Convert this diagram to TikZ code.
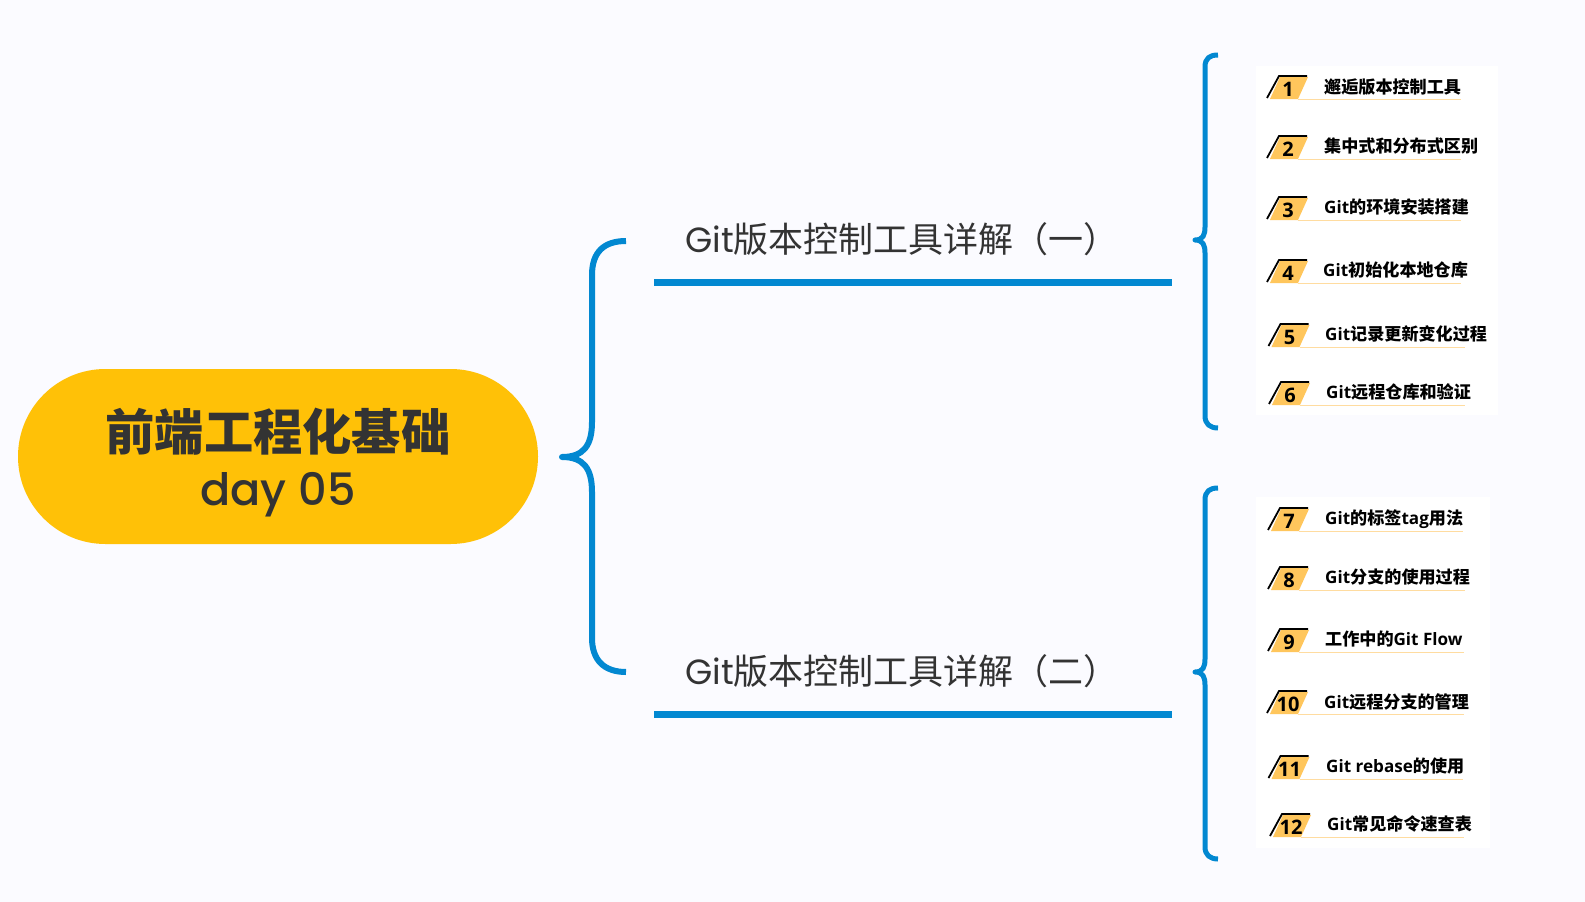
\documentclass[tikz,border=0pt]{standalone}
\usepackage{fontspec}
\setmainfont{Open Sans}
\newfontfamily\cjk{Noto Sans CJK SC}
\newfontfamily\geo{Poppins}
\newfontfamily\geomed{Poppins Medium}
\usetikzlibrary{calc}
\definecolor{bgc}{HTML}{FBFBFF}
\definecolor{bluec}{HTML}{0288D1}
\definecolor{pillc}{HTML}{FFC107}
\definecolor{orangec}{HTML}{FFC65C}
\definecolor{ulc}{HTML}{FFDCA0}
\definecolor{darkc}{HTML}{333333}
\tikzset{
  brace/.style={draw=bluec,line width=#1,line cap=butt,line join=round},
  rule/.style={draw=bluec,line width=7pt},
  head/.style={anchor=base west,inner sep=0pt,font=\fontsize{35}{35}\selectfont,text=darkc},
  label/.style={anchor=west,inner sep=0pt,font=\fontsize{17.1}{17.1}\selectfont\bfseries,text=black},
  numb/.style={inner sep=0pt,font=\fontsize{20}{20}\selectfont\bfseries,text=black},
  panel/.style={fill=white,draw=none},
  tag/.style={fill=orangec,draw=none},
  tagedge/.style={draw=black,line width=1.8pt,line cap=butt,line join=miter},
  uline/.style={draw=ulc,line width=1pt}
}
% n, shape dx, base y, text x, text y, underline end, text
\newcommand{\itemrow}[7]{%
  \fill[tag] (1270+#2,#3) -- (1298+#2,#3) -- (1308+#2,#3-22) -- (1280+#2,#3-22) -- cycle;
  \draw[tagedge] (1267+#2,#3-1) -- (1279+#2,#3-23) -- (1307+#2,#3-23);
  \node[numb] (n#1) at (1288+#2,#3-9.5) {#1};
  \node[label] (t#1) at (#4,#5) {#7};
  \coordinate (ua#1) at (1298+#2,#3);
  \coordinate (ub#1) at (#6,#3);
  \draw[uline] (ua#1) -- (ub#1);
}
% top y, tip offset, bottom offset
\newcommand{\smallbrace}[3]{%
  \draw[brace=5pt] (1218,#1+2) .. controls (1210,#1+2) and (1205,#1+5) .. (1205,#1+14)
    -- (1205,#1+#2-13) .. controls (1205,#1+#2-5) and (1203,#1+#2) .. (1195,#1+#2)
    .. controls (1203,#1+#2) and (1205,#1+#2+5) .. (1205,#1+#2+13)
    -- (1205,#1+#3-12) .. controls (1205,#1+#3-4) and (1210,#1+#3) .. (1218,#1+#3);
}
\begin{document}
\begin{tikzpicture}[x=1pt,y=-1pt]
\path[use as bounding box,fill=bgc] (0,0) rectangle (1585,902);
% pill
\fill[pillc,rounded corners=87.4pt] (18,369) rectangle (538,544);
\node[inner sep=0pt,font=\fontsize{49.3}{49.3}\selectfont\cjk\bfseries,text=darkc] (title) at (278,432) {前端工程化基础};
\node[inner sep=0pt,font=\fontsize{44.6}{44.6}\selectfont\geomed,text=darkc] (day) at (278,495) {day 05};
% big brace
\draw[brace=6pt] (626,241) .. controls (604,241) and (592,252) .. (592,275)
  -- (592,422) .. controls (592,445) and (584,457) .. (562,457)
  .. controls (584,457) and (592,469) .. (592,492)
  -- (592,638) .. controls (592,660) and (604,672) .. (626,672);
% headings
\draw[rule] (654,282) -- (1172,282);
\draw[rule] (654,714) -- (1172,714);
\node[head] (h1) at (685,252) {{\geo Git}{\cjk 版本控制工具详解（一）}};
\node[head] (h2) at (685,684) {{\geo Git}{\cjk 版本控制工具详解（二）}};
% small braces
\smallbrace{53}{187}{375}
\smallbrace{486}{186}{373}
% panels
\fill[panel] (1256,66) rectangle (1498,415);
\fill[panel] (1256,497) rectangle (1490,848);
% items
\itemrow{1}{0}{99}{1324}{87}{1461}{\cjk 邂逅版本控制工具}
\itemrow{2}{0}{159}{1324}{146}{1461}{\cjk 集中式和分布式区别}
\itemrow{3}{0}{220}{1324}{207}{1461}{Git{\cjk 的环境安装搭建}}
\itemrow{4}{0}{283}{1323}{270}{1461}{Git{\cjk 初始化本地仓库}}
\itemrow{5}{1.5}{347}{1325}{334}{1465}{Git{\cjk 记录更新变化过程}}
\itemrow{6}{2}{405}{1326}{392}{1465}{Git{\cjk 远程仓库和验证}}
\itemrow{7}{1}{531}{1325}{519}{1463}{Git{\cjk 的标签}tag{\cjk 用法}}
\itemrow{8}{1}{590}{1325}{577}{1465}{Git{\cjk 分支的使用过程}}
\itemrow{9}{1}{652}{1325}{639}{1464}{{\cjk 工作中的}Git Flow}
\itemrow{10}{0}{714}{1324}{702}{1464}{Git{\cjk 远程分支的管理}}
\itemrow{11}{1.5}{779}{1326}{766}{1463}{Git rebase{\cjk 的使用}}
\itemrow{12}{3}{837}{1327}{824}{1464}{Git{\cjk 常见命令速查表}}
\end{tikzpicture}
\end{document}
